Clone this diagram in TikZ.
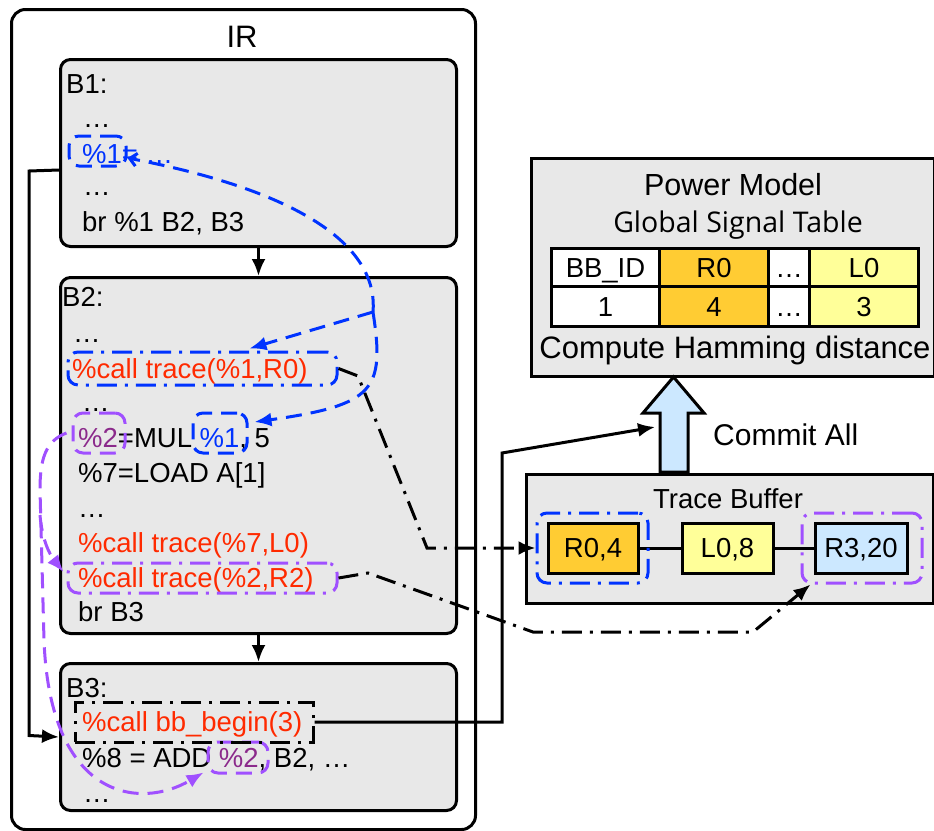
\documentclass[tikz,border=0pt]{standalone}
\usepackage{fontspec}
\setmainfont{Liberation Sans}
\newfontfamily\opensans{Open Sans}
\usetikzlibrary{arrows.meta}
\definecolor{boxgray}{HTML}{E8E8E8}
\definecolor{tblue}{HTML}{0033FF}
\definecolor{apurple}{HTML}{A050FF}
\definecolor{txtpurple}{HTML}{8B2A8B}
\definecolor{tred}{HTML}{FF2A00}
\definecolor{orangec}{HTML}{FFCC33}
\definecolor{yellowc}{HTML}{FFFF99}
\definecolor{bluec}{HTML}{CCE8FF}
\newcommand{\bl}[1]{{\color{tblue}#1}}
\newcommand{\pu}[1]{{\color{txtpurple}#1}}
\newcommand{\rd}[1]{{\color{tred}#1}}
\tikzset{
  lw/.style={line width=3pt},
  blk/.style={draw, lw, rounded corners=10pt, fill=boxgray, anchor=north west, inner sep=0pt},
  sqbox/.style={draw, lw, fill=boxgray, anchor=north west, inner sep=0pt},
  txt/.style={anchor=base west, inner sep=0pt},
  ctxt/.style={anchor=base, inner sep=0pt},
  ann/.style={lw, rounded corners=10pt, inner sep=0pt},
  dashedpat/.style={dash pattern=on 16pt off 9pt},
  dashdot/.style={dash pattern=on 20pt off 8pt on 3pt off 8pt},
  cell/.style={draw, lw, anchor=north west, inner sep=0pt, text height=19.5pt, text depth=0pt},
  tcell/.style={draw, lw, inner sep=0pt, minimum height=50pt, text height=19.5pt, text depth=0pt},
  tip/.style={-{Latex[length=17pt,width=14pt]}},
  arr/.style={lw, tip},
}
\begin{document}
\begin{tikzpicture}[x=1pt,y=-1pt,font=\fontsize{27.5}{32}\selectfont]
\useasboundingbox (0,0) rectangle (934,830);
% IR container
\node[draw, lw, rounded corners=14pt, anchor=north west, minimum width=464pt, minimum height=820pt, inner sep=0pt] (ir) at (10,8) {};
\node[ctxt, font=\fontsize{31}{36}\selectfont] (irt) at (242,47) {IR};
% blocks
\node[blk, minimum width=396pt, minimum height=187pt] (b1) at (59,58) {};
\node[blk, minimum width=396pt, minimum height=356pt] (b2) at (59,276) {};
\node[blk, minimum width=396pt, minimum height=147pt] (b3) at (59,662) {};
\draw[arr] (b1) -- (b2);
\draw[arr] (b2) -- (b3);
% B1 text
\node[txt] (t11) at (66,93) {B1:};
\node[txt] (t12) at (83,127) {…};
\node[txt] (t13) at (82,163) {\bl{\%1= …}};
\node[txt] (t14) at (83,195) {…};
\node[txt] (t15) at (82,231) {br \%1 B2, B3};
% B2 text
\node[txt] (t21) at (62,306) {B2:};
\node[txt] (t22) at (73,342) {…};
\node[txt] (t23) at (72,378) {\rd{\%call trace(\%1,R0)}};
\node[txt] (t24) at (82,411) {…};
\node[txt] (t25) at (78,447) {\pu{\%2}=MUL \bl{\%1}, 5};
\node[txt] (t26) at (78,482) {\%7=LOAD A[1]};
\node[txt] (t27) at (78,517) {…};
\node[txt] (t28) at (78,552) {\rd{\%call trace(\%7,L0)}};
\node[txt] (t29) at (78,587) {\rd{\%call trace(\%2,R2)}};
\node[txt] (t2a) at (78,621) {br B3};
% B3 text
\node[txt] (t31) at (66,697) {B3:};
\node[txt] (t32) at (82,731) {\rd{\%call bb\_begin(3)}};
\node[txt] (t33) at (82,767) {\%8 = ADD \pu{\%2}, B2, …};
\node[txt] (t34) at (83,802) {…};
% annotation boxes
\node[ann, draw=tblue, dashedpat, minimum width=57pt, minimum height=30pt] (a1) at (97.5,151) {};
\node[ann, draw=tblue, dashdot, minimum width=269pt, minimum height=33pt] (btr) at (202.5,368.5) {};
\node[ann, draw=tblue, dashedpat, minimum width=54pt, minimum height=40pt] (a1b) at (220,433) {};
\node[ann, draw=apurple, dashedpat, minimum width=52pt, minimum height=40pt] (a2) at (99,433) {};
\node[ann, draw=apurple, dashdot, minimum width=269pt, minimum height=30pt] (ptr) at (202.5,578) {};
\node[ann, draw=apurple, dashedpat, minimum width=60pt, minimum height=31pt] (a2b) at (238,757.5) {};
\node[draw, lw, dashdot, inner sep=0pt, minimum width=238pt, minimum height=40pt] (bb) at (194,722) {};
% IR control flow connector
\draw[arr] ([yshift=-17pt]b1.west) -- (29,171) -- (29,735.5) -- (b3.west);
% blue def-use arrows
\coordinate (bj) at (373,312);
\draw[lw, tblue, dashedpat, -{Straight Barb[length=7pt,width=13pt]}] (bj) .. controls (378,255) and (320,195) .. ([yshift=-7pt]a1.east);
\draw[lw, tblue, dashedpat, tip] (bj) -- ([xshift=47pt,yshift=2pt]btr.north);
\draw[lw, tblue, dashedpat, tip] (bj) .. controls (385,390) and (375,405) .. ([xshift=6pt,yshift=11pt]a1b.east);
% purple def-use arrows
\draw[lw, apurple, dashedpat, tip] ([xshift=-5pt]a2.west) .. controls (45,441) and (40,460) .. (40,490) -- (44,640) .. controls (50,800) and (140,810) .. ([xshift=-3pt,yshift=-15pt]a2b.west);
\draw[lw, apurple, dashedpat, tip] (40,515) .. controls (42,540) and (50,555) .. ([xshift=-3pt,yshift=6pt]ptr.west);
% Power model
\node[sqbox, minimum width=403pt, minimum height=218pt] (pm) at (530,157) {};
\node[ctxt, font=\fontsize{30.5}{36}\selectfont] (pmt) at (733,195) {Power Model};
\node[ctxt, font=\opensans\fontsize{28.5}{32}\selectfont] (gst) at (738,232) {Global Signal Table};
\node[cell, fill=white, minimum width=108pt, minimum height=38pt] (c11) at (550,247) {BB\_ID};
\node[cell, fill=orangec, minimum width=109pt, minimum height=38pt] (c12) at (658,247) {R0};
\node[cell, fill=white, minimum width=41pt, minimum height=38pt] (c13) at (767,247) {…};
\node[cell, fill=yellowc, minimum width=109pt, minimum height=38pt] (c14) at (808,247) {L0};
\node[cell, fill=white, minimum width=108pt, minimum height=40pt] (c21) at (550,285) {1};
\node[cell, fill=orangec, minimum width=109pt, minimum height=40pt] (c22) at (658,285) {4};
\node[cell, fill=white, minimum width=41pt, minimum height=40pt] (c23) at (767,285) {…};
\node[cell, fill=yellowc, minimum width=109pt, minimum height=40pt] (c24) at (808,285) {3};
\node[ctxt, font=\fontsize{31}{36}\selectfont] (chd) at (735,358) {Compute Hamming distance};
% Trace buffer
\node[sqbox, minimum width=407pt, minimum height=129pt] (tb) at (525,473) {};
\node[ctxt] (tbt) at (728,508) {Trace Buffer};
\node[tcell, fill=orangec, minimum width=90pt] (r04) at (593,548) {R0,4};
\node[tcell, fill=yellowc, minimum width=91pt] (l08) at (727.5,548) {L0,8};
\node[tcell, fill=bluec, minimum width=92pt] (r320) at (861,548) {R3,20};
\draw[lw] (r04) -- (l08);
\draw[lw] (l08) -- (r320);
\node[ann, draw=tblue, dashdot, minimum width=111pt, minimum height=70pt] (r0ann) at (592.5,548) {};
\node[ann, draw=apurple, dashdot, minimum width=120pt, minimum height=70pt] (r3ann) at (862,548) {};
% commit arrow
\draw[lw, fill=bluec] (660,472) -- (660,413) -- (643,413) -- (673.5,377) -- (704,413) -- (688,413) -- (688,472) -- cycle;
\node[txt, font=\fontsize{30}{36}\selectfont] (cat) at (713,445) {Commit All};
% trace connectors
\draw[lw, dashdot, tip] (btr.east) -- (358,376) -- (427,548) -- (r0ann.west);
\draw[lw, dashdot, tip] (ptr.east) -- (368,573) -- (533,632) -- (753,632) -- ([xshift=10pt]r3ann.south west);
\coordinate (cin) at (655,427);
\draw[arr] (bb.east) -- (502,722) -- (502,453) -- (cin);
\end{tikzpicture}
\end{document}
